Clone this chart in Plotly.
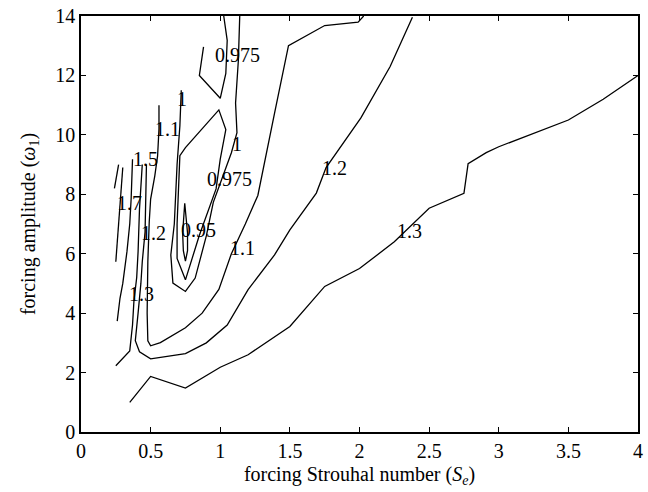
import plotly.graph_objects as go

# ---- contour polylines (data coordinates) ----
c095_x = [0.75, 0.735, 0.73, 0.735, 0.745, 0.755, 0.765, 0.765, 0.75]
c095_y = [5.75, 6.1, 6.7, 7.2, 7.7, 7.2, 6.7, 6.1, 5.75]

c0975_x = [0.75, 0.69, 0.69, 0.70, 0.71, 0.75, 0.89, 0.99, 1.04, 1.00, 0.97, 0.92, 0.85, 0.75]
c0975_y = [5.12, 5.84, 7.0, 8.3, 9.3, 9.57, 10.29, 10.84, 10.18, 9.18, 8.18, 7.5, 6.62, 5.12]

c0975top_x = [0.88, 0.85, 1.00, 1.04, 1.05, 1.025]
c0975top_y = [12.96, 12.0, 11.23, 12.07, 13.18, 14.0]

c1_x = [0.72, 0.71, 0.69, 0.67, 0.645, 0.66, 0.75, 0.82, 0.90, 0.95, 1.01, 1.08, 1.12, 1.11, 1.13, 1.14]
c1_y = [11.5, 10.3, 9.0, 7.0, 5.96, 5.01, 4.73, 5.18, 6.6, 7.73, 8.5, 9.4, 10.07, 11.07, 12.5, 14.0]

c11_x = [0.56, 0.56, 0.55, 0.53, 0.50, 0.49, 0.48, 0.475, 0.48, 0.50, 0.57, 0.75, 0.87, 0.99, 1.08,
         1.18, 1.27, 1.33, 1.39, 1.49, 1.75, 1.99, 2.03]
c11_y = [11.0, 10.2, 9.29, 8.62, 7.84, 7.07, 5.73, 4.0, 3.07, 2.9, 3.01, 3.51, 4.0, 4.8, 6.0,
         7.0, 7.96, 9.4, 10.73, 13.0, 13.68, 13.79, 14.0]

c12_x = [0.47, 0.465, 0.46, 0.44, 0.43, 0.41, 0.39, 0.42, 0.50, 0.75, 0.90, 1.05, 1.20, 1.39, 1.50,
         1.69, 1.76, 2.01, 2.22, 2.38]
c12_y = [9.0, 8.0, 6.73, 5.73, 5.0, 4.0, 3.07, 2.7, 2.46, 2.64, 3.0, 3.6, 4.79, 5.96, 6.8,
         8.04, 8.9, 10.57, 12.3, 13.96]

c13left_x = [0.25, 0.35, 0.37, 0.38, 0.40, 0.41, 0.42, 0.44]
c13left_y = [2.23, 2.73, 3.6, 4.4, 5.2, 6.07, 7.5, 9.0]

c13_x = [0.35, 0.50, 0.75, 1.00, 1.20, 1.50, 1.75, 2.00, 2.25, 2.50, 2.75, 2.78, 2.91, 3.00, 3.50, 3.75, 4.00]
c13_y = [1.00, 1.87, 1.48, 2.18, 2.60, 3.55, 4.90, 5.50, 6.40, 7.53, 8.03, 9.03, 9.40, 9.60, 10.50, 11.20, 12.00]

c15_x = [0.26, 0.28, 0.30, 0.33, 0.35, 0.36, 0.37]
c15_y = [3.73, 4.5, 5.0, 6.07, 7.0, 7.84, 9.18]

c17_x = [0.25, 0.265, 0.28, 0.29, 0.30]
c17_y = [5.73, 6.7, 7.51, 8.2, 8.9]

c2_x = [0.24, 0.255, 0.27]
c2_y = [8.2, 8.6, 9.0]

lines = [
    (c095_x, c095_y), (c0975_x, c0975_y), (c0975top_x, c0975top_y),
    (c1_x, c1_y), (c11_x, c11_y), (c12_x, c12_y), (c13left_x, c13left_y),
    (c13_x, c13_y), (c15_x, c15_y), (c17_x, c17_y), (c2_x, c2_y),
]

# ---- contour labels ----
label_text = ["0.975", "1", "1.1", "1", "1.5", "0.975", "1.7", "1.2", "0.95", "1.1", "1.3", "1.2", "1.3"]
label_x = [0.99, 0.72, 0.56, 1.11, 0.40, 0.93, 0.285, 0.46, 0.745, 1.10, 0.37, 1.76, 2.30]
label_y = [12.7, 11.2, 10.2, 9.7, 9.2, 8.5, 7.7, 6.7, 6.8, 6.2, 4.65, 8.9, 6.75]

x_ticks = [0, 0.5, 1, 1.5, 2, 2.5, 3, 3.5, 4]
x_ticklabels = ["0", "0.5", "1", "1.5", "2", "2.5", "3", "3.5", "4"]
y_ticks = [0, 2, 4, 6, 8, 10, 12, 14]
y_ticklabels = ["0", "2", "4", "6", "8", "10", "12", "14"]

FONT = "Liberation Serif"

fig = go.Figure()
for lx, ly in lines:
    fig.add_trace(go.Scatter(x=lx, y=ly, mode="lines",
                             line=dict(color="black", width=1.3),
                             hoverinfo="skip", showlegend=False))

for t, x, y in zip(label_text, label_x, label_y):
    fig.add_annotation(x=x, y=y, text=t, showarrow=False,
                       xanchor="left", yanchor="middle", xshift=-6,
                       font=dict(family=FONT, size=20, color="black"))

axis_common = dict(showgrid=False, zeroline=False, showline=True, linecolor="black",
                   linewidth=1.5, mirror="allticks", ticks="inside", ticklen=5,
                   tickcolor="black", tickwidth=1,
                   tickfont=dict(family=FONT, size=20, color="black"))

fig.update_xaxes(range=[0, 4], tickvals=x_ticks, ticktext=x_ticklabels,
                 title=dict(text="forcing Strouhal number (<i>S</i><sub><i>e</i></sub>)",
                            font=dict(family=FONT, size=20, color="black"), standoff=6),
                 **axis_common)
fig.update_yaxes(range=[0, 14], tickvals=y_ticks, ticktext=y_ticklabels,
                 title=dict(text="forcing amplitude (<i>ω</i><sub>1</sub>)",
                            font=dict(family=FONT, size=20, color="black"), standoff=14),
                 **axis_common)

fig.update_layout(width=648, height=492, margin=dict(l=81, r=5, t=12, b=60),
                  plot_bgcolor="white", paper_bgcolor="white")

fig.write_html("out.html")
